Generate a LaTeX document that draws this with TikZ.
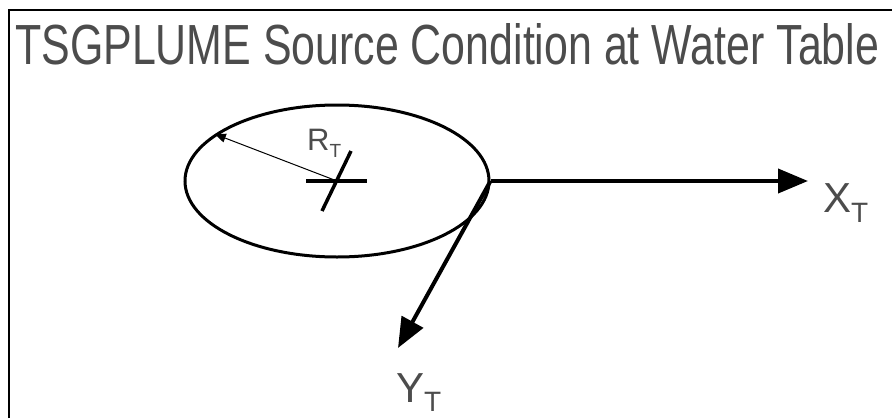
\documentclass[tikz,border=0pt]{standalone}
\usepackage{fontspec}
\setmainfont{Liberation Sans}
\usetikzlibrary{arrows.meta,shapes.geometric}

\tikzset{
    axisarrow/.style={line width=4pt,-{Triangle[length=30pt,width=24pt]}},
    lbl/.style={text=black!70,inner sep=0pt,anchor=base west},
}

\begin{document}
\begin{tikzpicture}[x=1pt,y=-1pt]
    \useasboundingbox (0,0) rectangle (892,418);
    \draw[line width=2pt] (9,418) -- (9,10) -- (892,10);
    \node[lbl,anchor=south west] (title) at (15,65)
        {\resizebox{864pt}{41pt}{TSGPLUME Source Condition at Water Table}};

    \node[draw,ellipse,line width=3pt,minimum width=304pt,minimum height=152pt,inner sep=0pt] (src) at (337,181) {};
    \coordinate (ctr) at (src.center);
    \draw[line width=4.5pt] (306,181) -- (367,181);
    \draw[line width=3.5pt] (351,151) -- (322,211);
    \draw[line width=1pt,-{Triangle[length=11pt,width=9pt]}] (ctr) -- (src.159);

    \coordinate (xtip) at (808,181);
    \coordinate (ytip) at (398,348);
    \draw[axisarrow] (src.east) -- (xtip);
    \draw[axisarrow] (src.east) -- (ytip);

    \node[lbl,font=\fontsize{31}{31}\selectfont] (rlbl) at (307,150) {R\raisebox{-7pt}{\fontsize{19}{19}\selectfont T}};
    \node[lbl,font=\fontsize{42}{42}\selectfont] (xlbl) at (823,212) {X\raisebox{-10pt}{\fontsize{28}{28}\selectfont T}};
    \node[lbl,font=\fontsize{42}{42}\selectfont] (ylbl) at (396,402) {Y\raisebox{-9pt}{\fontsize{28}{28}\selectfont T}};
\end{tikzpicture}
\end{document}
